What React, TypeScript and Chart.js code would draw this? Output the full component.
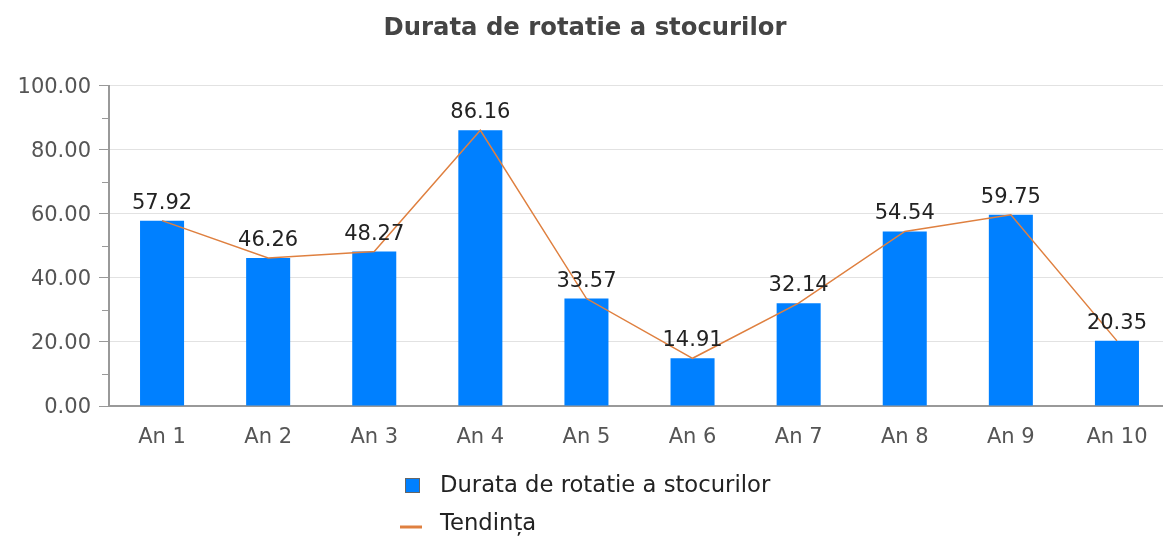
import React, { useEffect, useRef } from "react";
import { Chart, registerables } from "chart.js";

Chart.register(...registerables);

const categories = ["An 1", "An 2", "An 3", "An 4", "An 5", "An 6", "An 7", "An 8", "An 9", "An 10"];
const barValues = [57.92, 46.26, 48.27, 86.16, 33.57, 14.91, 32.14, 54.54, 59.75, 20.35];
const trendValues = [57.92, 46.26, 48.27, 86.16, 33.57, 14.91, 32.14, 54.54, 59.75, 20.35];
const barLabel = "Durata de rotatie a stocurilor";
const trendLabel = "Tendința";
const titleText = "Durata de rotatie a stocurilor";
const minorTicks = [10, 30, 50, 70, 90];

const FONT = "'DejaVu Sans', sans-serif";
const BAR_COLOR = "#0080ff";
const LINE_COLOR = "#df8040";
const AXIS_COLOR = "#999";

const valueLabels = {
  id: "valueLabels",
  afterDatasetsDraw(chart: any) {
    const ctx = chart.ctx;
    const meta = chart.getDatasetMeta(0);
    ctx.save();
    ctx.font = `21px ${FONT}`;
    ctx.fillStyle = "#222";
    ctx.textAlign = "center";
    ctx.textBaseline = "alphabetic";
    meta.data.forEach((el: any, i: number) => {
      const v = chart.data.datasets[0].data[i] as number;
      ctx.fillText(v.toFixed(2), el.x, el.y - 12);
    });
    ctx.restore();
  },
};

const minorTickPlugin = {
  id: "minorTicks",
  afterDraw(chart: any) {
    const ctx = chart.ctx;
    const y = chart.scales.y;
    const left = chart.chartArea.left;
    ctx.save();
    ctx.strokeStyle = AXIS_COLOR;
    ctx.lineWidth = 1;
    minorTicks.forEach((v) => {
      const py = Math.round(y.getPixelForValue(v)) + 0.5;
      ctx.beginPath();
      ctx.moveTo(left - 7, py);
      ctx.lineTo(left, py);
      ctx.stroke();
    });
    ctx.restore();
  },
};

const customLegend = {
  id: "customLegend",
  afterDraw(chart: any) {
    const ctx = chart.ctx;
    ctx.save();
    ctx.font = `22.7px ${FONT}`;
    ctx.textAlign = "left";
    ctx.textBaseline = "middle";
    // bar item
    ctx.fillStyle = BAR_COLOR;
    ctx.fillRect(405, 478, 15, 15);
    ctx.strokeStyle = "#666";
    ctx.lineWidth = 1;
    ctx.strokeRect(405.5, 478.5, 14, 14);
    ctx.fillStyle = "#222";
    ctx.fillText(chart.data.datasets[0].label, 440, 486);
    // line item
    ctx.strokeStyle = LINE_COLOR;
    ctx.lineWidth = 3;
    ctx.beginPath();
    ctx.moveTo(400, 527);
    ctx.lineTo(422, 527);
    ctx.stroke();
    ctx.fillText(chart.data.datasets[1].label, 440, 524);
    ctx.restore();
  },
};

export default function App() {
  const ref = useRef<HTMLCanvasElement | null>(null);

  useEffect(() => {
    document.body.style.margin = "0";
    const canvas = ref.current;
    if (!canvas) return;
    const chart = new Chart(canvas, {
      type: "bar",
      data: {
        labels: categories,
        datasets: [
          {
            type: "bar",
            label: barLabel,
            data: barValues,
            backgroundColor: BAR_COLOR,
            borderWidth: 0,
            categoryPercentage: 1,
            barPercentage: 0.415,
            order: 1,
          },
          {
            type: "line",
            label: trendLabel,
            data: trendValues,
            borderColor: LINE_COLOR,
            borderWidth: 1.5,
            pointRadius: 0,
            tension: 0,
            fill: false,
            order: 0,
          } as any,
        ],
      },
      options: {
        responsive: false,
        animation: false,
        devicePixelRatio: 1,
        layout: { padding: { left: 0, right: 8, top: 0, bottom: 0 } },
        plugins: {
          legend: { display: false },
          tooltip: { enabled: false },
          title: {
            display: true,
            text: titleText,
            color: "#444",
            font: { family: FONT, size: 24.3, weight: "bold" },
            padding: { top: 14, bottom: 42.8 },
          },
        },
        scales: {
          x: {
            grid: { display: false, drawTicks: false },
            border: { display: true, color: AXIS_COLOR, width: 2 },
            ticks: {
              color: "#555",
              font: { family: FONT, size: 21 },
              padding: 19,
              maxRotation: 0,
            },
            afterFit(scale: any) {
              scale.height = 130;
            },
          },
          y: {
            min: 0,
            max: 100,
            border: { display: true, color: AXIS_COLOR, width: 2 },
            grid: {
              color: (c: any) => (c.tick && c.tick.value % 20 === 0 && c.tick.value !== 0 ? "#e2e2e2" : "rgba(0,0,0,0)"),
              tickColor: AXIS_COLOR,
              tickLength: 10,
              lineWidth: 1,
            },
            ticks: {
              stepSize: 20,
              color: "#555",
              font: { family: FONT, size: 21 },
              padding: 8,
              labelOffset: 2,
              callback: (v: any) => Number(v).toFixed(2),
            },
            afterFit(scale: any) {
              scale.width = 109;
            },
          },
        },
      },
      plugins: [valueLabels, minorTickPlugin, customLegend],
    });
    return () => chart.destroy();
  }, []);

  return (
    <div style={{ position: "fixed", left: 0, top: 0, width: 1163, height: 536, overflow: "hidden", background: "#fff" }}>
      <canvas ref={ref} width={1178} height={536} style={{ display: "block", width: 1178, height: 536 }} />
    </div>
  );
}
